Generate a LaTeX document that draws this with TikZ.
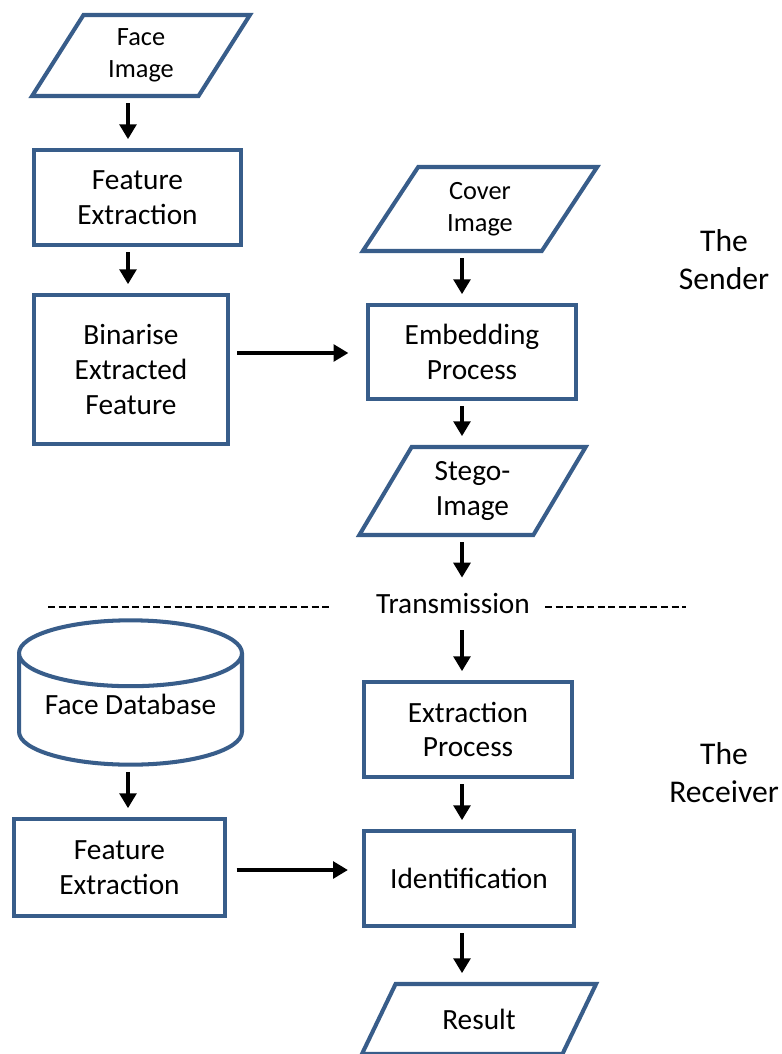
\documentclass[tikz,border=0pt]{standalone}
\usepackage{fontspec}
\setmainfont{Carlito}
\usetikzlibrary{arrows.meta,shapes.geometric}
\definecolor{boxblue}{HTML}{385D8A}
\tikzset{
  box/.style={draw=boxblue,line width=2.3pt,fill=white,align=center,font=\fontsize{16.7}{19.8}\selectfont},
  io/.style={box,trapezium,trapezium left angle=62,trapezium right angle=118,trapezium stretches=true},
  arr/.style={line width=2.1pt,-{Triangle[width=9.5pt,length=8.5pt]},shorten <=3pt,shorten >=5pt},
  sep/.style={line width=1.1pt,dash pattern=on 4pt off 2pt},
}
\begin{document}
\begin{tikzpicture}[x=0.02cm,y=-0.02cm]
        \useasboundingbox (0,0) rectangle (781,1054);
        %sender
        \node[io,minimum width=4.36cm,minimum height=1.62cm,font=\fontsize{15}{18.1}\selectfont] (faceimg) at (141,55.5) {Face\\Image};
        \node[box,minimum width=4.14cm,minimum height=1.90cm] (fe1) at (137.5,197.5) {Feature\\Extraction};
        \node[box,minimum width=3.88cm,minimum height=2.98cm] (bin) at (131,369.5) {Binarise\\Extracted\\Feature};
        \node[io,minimum width=4.72cm,minimum height=1.68cm,font=\fontsize{15}{18.1}\selectfont] (cover) at (480,209) {Cover\\Image};
        \node[box,minimum width=4.16cm,minimum height=1.88cm] (emb) at (472,352) {Embedding\\Process};
        \node[io,minimum width=4.54cm,minimum height=1.76cm] (stego) at (472.5,491) {Stego-\\Image};
        %transmission
        \node[font=\fontsize{16.7}{19.8}\selectfont,inner sep=0pt] (trans) at (453,604) {Transmission};
        \draw[sep] (48,607) -- (330,607);
        \draw[sep] (545,607) -- (686,607);
        %receiver
        \node[box,cylinder,shape border rotate=90,aspect=0.36,minimum width=4.46cm,minimum height=2.54cm,text depth=12.5pt,anchor=shape center] (db) at (130.5,692.5) {Face Database};
        \node[box,minimum width=4.22cm,minimum height=1.94cm] (fe2) at (119.5,867.5) {Feature\\Extraction};
        \node[box,minimum width=4.16cm,minimum height=1.90cm] (ext) at (468,729.5) {Extraction\\Process};
        \node[box,minimum width=4.20cm,minimum height=1.90cm] (ident) at (469,878.5) {Identification};
        \node[io,minimum width=4.72cm,minimum height=1.40cm] (result) at (479,1019) {Result};
        %labels
        \node[font=\fontsize{18}{21.5}\selectfont,align=center] (sender) at (724,260) {The\\Sender};
        \node[font=\fontsize{18}{21.5}\selectfont,align=center] (receiver) at (724,773) {The\\Receiver};
        %arrows
        \coordinate (lcol) at (128,0);
        \coordinate (rcol) at (462,0);
        \coordinate (row1) at (0,353);
        \coordinate (row2) at (0,870);
        \draw[arr] (faceimg.south -| lcol) -- (fe1.north -| lcol);
        \draw[arr] (fe1.south -| lcol) -- (bin.north -| lcol);
        \draw[arr] (cover.south -| rcol) -- (emb.north -| rcol);
        \draw[arr] (emb.south -| rcol) -- (stego.north -| rcol);
        \draw[arr,shorten >=9pt] (stego.south -| rcol) -- (trans.north -| rcol);
        \draw[arr,shorten <=9pt] (trans.south -| rcol) -- (ext.north -| rcol);
        \draw[arr] (db.south -| lcol) -- (fe2.north -| lcol);
        \draw[arr] (ext.south -| rcol) -- (ident.north -| rcol);
        \draw[arr] (ident.south -| rcol) -- (result.north -| rcol);
        \draw[arr,shorten <=4pt,shorten >=10pt] (bin.east |- row1) -- (emb.west |- row1);
        \draw[arr,shorten <=5.5pt,shorten >=8pt] (fe2.east |- row2) -- (ident.west |- row2);
\end{tikzpicture}
\end{document}
